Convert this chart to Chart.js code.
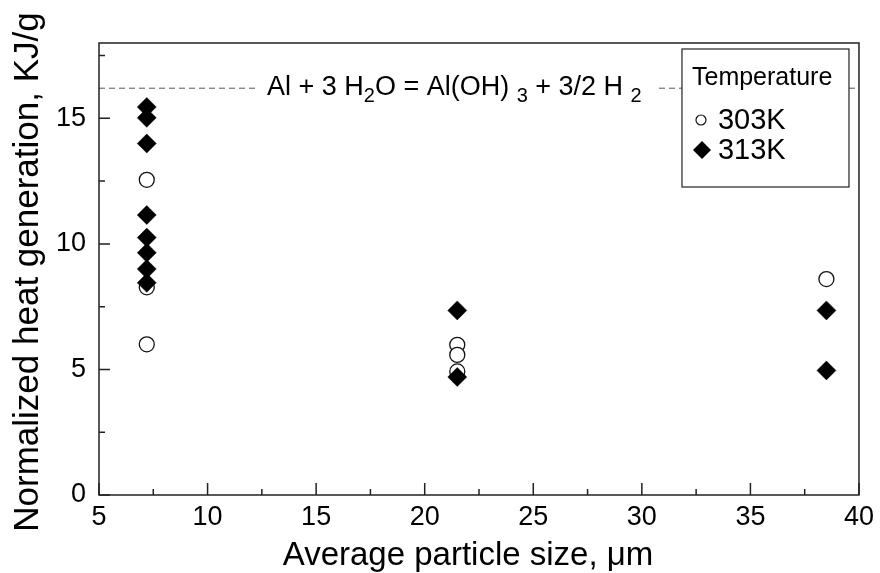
<!DOCTYPE html>
<html>
<head>
<meta charset="utf-8">
<script src="https://cdn.jsdelivr.net/npm/chart.js@4.4.1/dist/chart.umd.min.js"></script>
<style>
  body { margin: 0; background: #fff; }
</style>
</head>
<body>
<canvas id="heatChart" width="880" height="573"></canvas>
<script>
const temperatures = ['303K', '313K'];

// average particle size (um) against normalized heat generation (KJ/g)
const size303 = [7.2, 7.2, 7.2, 21.5, 21.5, 21.5, 38.5];
const heat303 = [12.55, 8.27, 6.0, 5.98, 5.58, 4.92, 8.6];

const size313 = [7.2, 7.2, 7.2, 7.2, 7.2, 7.2, 7.2, 7.2, 21.5, 21.5, 38.5, 38.5];
const heat313 = [15.45, 15.02, 14.0, 11.15, 10.25, 9.65, 9.0, 8.45, 7.35, 4.7, 7.35, 4.96];

// theoretical heat of Al + 3 H2O = Al(OH)3 + 3/2 H2
const reactionHeat = 16.2;

const FONT = "'Liberation Sans', Arial, sans-serif";

const toPoints = (xs, ys) => xs.map((x, i) => ({ x: x, y: ys[i] }));

function drawMarker(ctx, style, cx, cy, r) {
    ctx.beginPath();
    if (style === 'circle') {
        ctx.arc(cx, cy, r, 0, Math.PI * 2);
        ctx.fillStyle = '#fff';
        ctx.fill();
        ctx.lineWidth = 1.2;
        ctx.strokeStyle = '#111';
        ctx.stroke();
    } else {
        ctx.moveTo(cx, cy - r);
        ctx.lineTo(cx + r, cy);
        ctx.lineTo(cx, cy + r);
        ctx.lineTo(cx - r, cy);
        ctx.closePath();
        ctx.fillStyle = '#000';
        ctx.fill();
    }
}

const decorations = {
    id: 'decorations',
    beforeDatasetsDraw(chart) {
        const { ctx, chartArea: a, scales } = chart;
        const yLine = scales.y.getPixelForValue(reactionHeat);

        ctx.save();
        ctx.strokeStyle = '#555';
        ctx.lineWidth = 1;
        ctx.setLineDash([6, 4]);
        ctx.beginPath();
        ctx.moveTo(a.left, yLine);
        ctx.lineTo(a.right, yLine);
        ctx.stroke();
        ctx.setLineDash([]);

        // equation written on the line, with subscripts
        const parts = [['Al + 3 H', false], ['2', true], ['O = Al(OH) ', false],
                       ['3', true], [' + 3/2 H ', false], ['2', true]];
        const mainFont = '27px ' + FONT;
        const subFont = '20px ' + FONT;
        const startX = a.left + 168;
        let width = 0;
        parts.forEach(p => {
            ctx.font = p[1] ? subFont : mainFont;
            width += ctx.measureText(p[0]).width;
        });
        ctx.fillStyle = '#fff';
        ctx.fillRect(startX - 10, yLine - 4, width + 25, 8);

        ctx.fillStyle = '#000';
        ctx.textBaseline = 'alphabetic';
        ctx.textAlign = 'left';
        let cx = startX;
        parts.forEach(p => {
            ctx.font = p[1] ? subFont : mainFont;
            ctx.fillText(p[0], cx, p[1] ? yLine + 14 : yLine + 7);
            cx += ctx.measureText(p[0]).width;
        });
        ctx.restore();
    },
    afterDatasetsDraw(chart) {
        const { ctx, chartArea: a, scales } = chart;
        ctx.save();

        // box frame and inward ticks
        ctx.strokeStyle = '#222';
        ctx.lineWidth = 1.5;
        ctx.strokeRect(a.left, a.top, a.right - a.left, a.bottom - a.top);
        ctx.beginPath();
        for (let v = scales.x.min; v <= scales.x.max; v += 2.5) {
            const px = scales.x.getPixelForValue(v);
            const len = v % 5 === 0 ? 12 : 6;
            ctx.moveTo(px, a.bottom);
            ctx.lineTo(px, a.bottom - len);
        }
        for (let v = scales.y.min; v <= scales.y.max; v += 2.5) {
            const py = scales.y.getPixelForValue(v);
            const len = v % 5 === 0 ? 11 : 6;
            ctx.moveTo(a.left, py);
            ctx.lineTo(a.left + len, py);
        }
        ctx.stroke();

        // axis titles
        ctx.fillStyle = '#000';
        ctx.font = '33px ' + FONT;
        ctx.textAlign = 'center';
        ctx.textBaseline = 'alphabetic';
        ctx.fillText('Average particle size, \u03bcm', (a.left + a.right) / 2 - 11, 565);
        ctx.save();
        ctx.font = '35px ' + FONT;
        ctx.translate(38, 272);
        ctx.rotate(-Math.PI / 2);
        ctx.fillText('Normalized heat generation, KJ/g', 0, 0);
        ctx.restore();

        // legend box
        const bx = a.right - 177, by = a.top + 6, bw = 167, bh = 138;
        ctx.fillStyle = '#fff';
        ctx.fillRect(bx, by, bw, bh);
        ctx.strokeStyle = '#222';
        ctx.lineWidth = 1.2;
        ctx.strokeRect(bx, by, bw, bh);

        ctx.fillStyle = '#000';
        ctx.textAlign = 'left';
        ctx.textBaseline = 'middle';
        ctx.font = '25px ' + FONT;
        ctx.fillText('Temperature', bx + 10, by + 29);

        chart.data.datasets.forEach((ds, i) => {
            const rowY = by + 71 + i * 30;
            if (ds.pointStyle === 'circle') {
                drawMarker(ctx, 'circle', bx + 19, rowY, 5);
            } else {
                drawMarker(ctx, 'diamond', bx + 20, rowY, 9);
            }
            ctx.fillStyle = '#000';
            ctx.font = '29px ' + FONT;
            ctx.fillText(ds.label, bx + 36, rowY + 1);
        });
        ctx.restore();
    }
};

new Chart(document.getElementById('heatChart'), {
    type: 'scatter',
    data: {
        datasets: [
            {
                label: temperatures[0],
                data: toPoints(size303, heat303),
                pointStyle: 'circle',
                pointRadius: 7.5,
                backgroundColor: '#fff',
                borderColor: '#111',
                borderWidth: 1.3,
                order: 1
            },
            {
                label: temperatures[1],
                data: toPoints(size313, heat313),
                pointStyle: 'rectRot',
                pointRadius: 9.5,
                backgroundColor: '#000',
                borderColor: '#000',
                borderWidth: 0.5,
                order: 0
            }
        ]
    },
    options: {
        responsive: false,
        animation: false,
        events: [],
        layout: { padding: { top: 43, right: 19, left: 0, bottom: 0 } },
        plugins: {
            legend: { display: false },
            tooltip: { enabled: false }
        },
        scales: {
            x: {
                type: 'linear',
                min: 5,
                max: 40,
                grid: { display: false, drawTicks: false },
                border: { display: false },
                ticks: { stepSize: 5, padding: 6, color: '#000', font: { family: FONT, size: 27 } },
                afterFit(scale) { scale.height = 78; }
            },
            y: {
                min: 0,
                max: 18,
                grid: { display: false, drawTicks: false },
                border: { display: false },
                ticks: { stepSize: 5, includeBounds: false, padding: 13, color: '#000', font: { family: FONT, size: 27 } },
                afterFit(scale) { scale.width = 99; }
            }
        }
    },
    plugins: [decorations]
});
</script>
</body>
</html>
